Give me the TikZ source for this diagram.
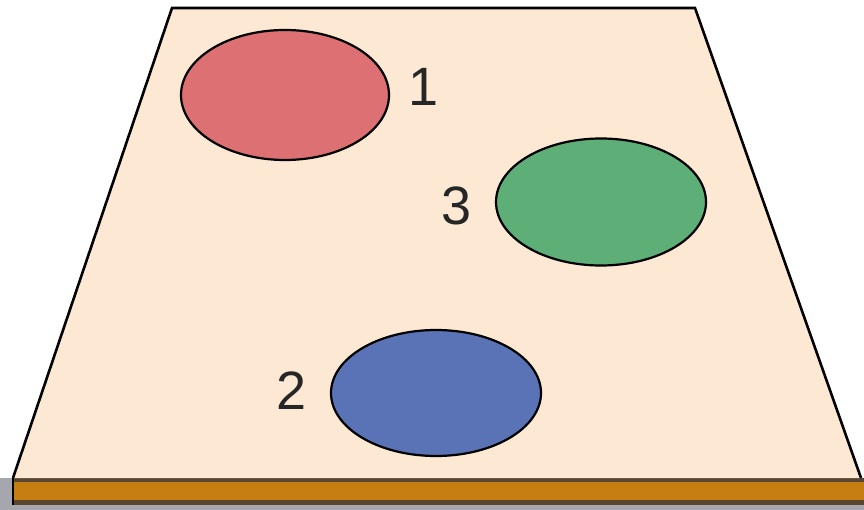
\documentclass[tikz,border=0pt]{standalone}
\usepackage{fontspec}
\setmainfont{Liberation Sans}
\definecolor{board}{HTML}{FDE8D4}
\definecolor{redspot}{HTML}{DD7072}
\definecolor{greenspot}{HTML}{5EAE78}
\definecolor{bluespot}{HTML}{5A72B6}
\definecolor{strip}{HTML}{C47E12}
\definecolor{stripdark}{HTML}{5A4630}
\definecolor{shadowgray}{HTML}{A6A6AE}
\begin{document}
\begin{tikzpicture}[x=1pt,y=-1pt,
  spot/.style={draw=black,line width=2.2pt},
  digit/.style={font=\fontsize{54}{60}\selectfont,text=black!85,inner sep=0pt}]
\useasboundingbox (0,0) rectangle (864,510);
% shadow and strip
\fill[shadowgray] (0,478) rectangle (864,510);
\fill[stripdark] (13,478) rectangle (864,505);
\fill[strip] (13,482) rectangle (864,500);
% board
\coordinate (tl) at (172,8);
\coordinate (tr) at (695,8);
\coordinate (br) at (861,478);
\coordinate (bl) at (13,478);
\fill[board] (tl) -- (tr) -- (br) -- (bl) -- cycle;
\draw[line width=2.6pt,line join=miter] (bl) -- (tl) -- (tr) -- (br);
\draw[line width=2.6pt] (13,478) -- (13,505);
% spots
\draw[spot,fill=redspot] (285,95) ellipse [x radius=104, y radius=65];
\draw[spot,fill=greenspot] (601,202) ellipse [x radius=105, y radius=63.5];
\draw[spot,fill=bluespot] (436,393) ellipse [x radius=105, y radius=63];
% labels
\node[digit] (n1) at (424,87) {1};
\node[digit] (n3) at (457,206) {3};
\node[digit] (n2) at (292,391) {2};
\end{tikzpicture}
\end{document}
